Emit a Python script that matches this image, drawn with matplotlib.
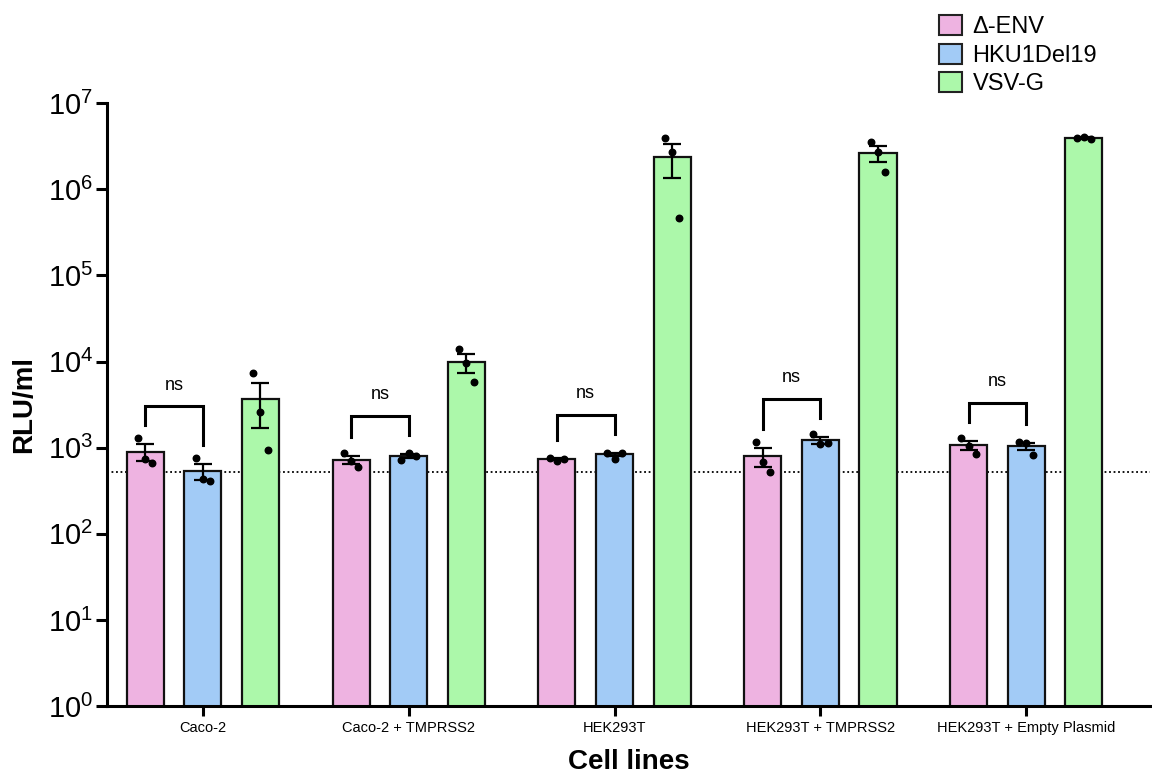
import numpy as np
import matplotlib
matplotlib.use("Agg")
import matplotlib.pyplot as plt
from matplotlib.patches import Patch
from matplotlib.ticker import FixedLocator, FuncFormatter, NullLocator

plt.rcParams['font.family'] = ['Liberation Sans', 'DejaVu Sans']
plt.rcParams['mathtext.fontset'] = 'custom'
plt.rcParams['mathtext.rm'] = 'Liberation Sans'

cell_lines = ["Caco-2", "Caco-2 + TMPRSS2", "HEK293T", "HEK293T + TMPRSS2",
              "HEK293T + Empty Plasmid"]
series = ["Δ-ENV", "HKU1Del19", "VSV-G"]
colors = ["#EEB3E1", "#A2CBF6", "#ACF8AA"]

# replicate values (RLU/ml), three per cell line
denv = [[1290, 740, 665], [870, 705, 600], [760, 700, 740],
        [1170, 680, 525], [1290, 1050, 850]]
hku1 = [[760, 435, 410], [720, 870, 800], [880, 750, 880],
        [1440, 1100, 1130], [1170, 1130, 830]]
vsvg = [[7400, 2600, 940], [14000, 9600, 5800], [3.9e6, 2.7e6, 4.6e5],
        [3.55e6, 2.7e6, 1.6e6], [3.95e6, 4.05e6, 3.85e6]]
detection_limit = 530

data = [np.array(denv), np.array(hku1), np.array(vsvg)]

fig = plt.figure(figsize=(11.52, 7.76), dpi=100)
ax = fig.add_axes([0.093, 0.090, 0.905, 0.777])

x = np.arange(len(cell_lines))
offsets = [-0.28, 0.0, 0.28]
width = 0.18
jitter = [-0.035, 0.0, 0.035]

ax.axhline(detection_limit, color="black", ls=(0, (1, 1.5)), lw=1.3, zorder=0)

tops = []
for vals, off, col in zip(data, offsets, colors):
    mean = vals.mean(axis=1)
    sem = vals.std(axis=1, ddof=1) / np.sqrt(vals.shape[1])
    ax.bar(x + off, mean, width=width, color=col, edgecolor="#111111",
           linewidth=1.6, zorder=2)
    ax.errorbar(x + off, mean, yerr=sem, fmt="none", ecolor="black",
                elinewidth=1.6, capsize=6.5, capthick=1.6, zorder=3)
    for i in range(len(x)):
        ax.scatter(x[i] + off + np.array(jitter), vals[i], s=22,
                   color="black", zorder=4)
    tops.append(mean + sem)

# "ns" brackets between Δ-ENV and HKU1Del19
for i in range(len(x)):
    l_end = tops[0][i] * 10 ** 0.22
    r_end = tops[1][i] * 10 ** 0.22
    top = max(l_end, r_end) * 10 ** 0.22
    xl, xr = x[i] + offsets[0], x[i] + offsets[1]
    ax.plot([xl, xl, xr, xr], [l_end, top, top, r_end], color="black",
            lw=2.2, zorder=3, solid_joinstyle="miter")
    ax.text((xl + xr) / 2, top * 10 ** 0.15, "ns", ha="center", va="bottom",
            fontsize=13)

ax.set_yscale("log")
ax.set_ylim(1, 1e7)
ax.set_xlim(-0.465, 4.6)
ax.yaxis.set_major_locator(FixedLocator([10.0 ** k for k in range(8)]))
ax.yaxis.set_minor_locator(NullLocator())
ax.yaxis.set_major_formatter(FuncFormatter(
    lambda v, p: r"$\mathregular{10^{%d}}$" % round(np.log10(v))))
ax.set_xticks(x)
ax.set_xticklabels(cell_lines, fontsize=10.5)

ax.spines["top"].set_visible(False)
ax.spines["right"].set_visible(False)
ax.spines["left"].set_linewidth(2.2)
ax.spines["bottom"].set_linewidth(2.2)
ax.tick_params(axis="y", labelsize=21, length=8, width=2.2, pad=2)
ax.tick_params(axis="x", length=7, width=2.2, pad=4)

ax.set_ylabel("RLU/ml", fontsize=20, fontweight="bold", labelpad=8)
ax.set_xlabel("Cell lines", fontsize=20, fontweight="bold", labelpad=10)

handles = [Patch(facecolor=c, edgecolor="#222222", linewidth=1.5) for c in colors]
fig.legend(handles, series, loc="upper left", bbox_to_anchor=(0.797, 1.008),
           frameon=False, fontsize=17, handlelength=0.95, handleheight=0.95,
           handletextpad=0.45, labelspacing=0.22)

fig.savefig("out.png", dpi=100)
